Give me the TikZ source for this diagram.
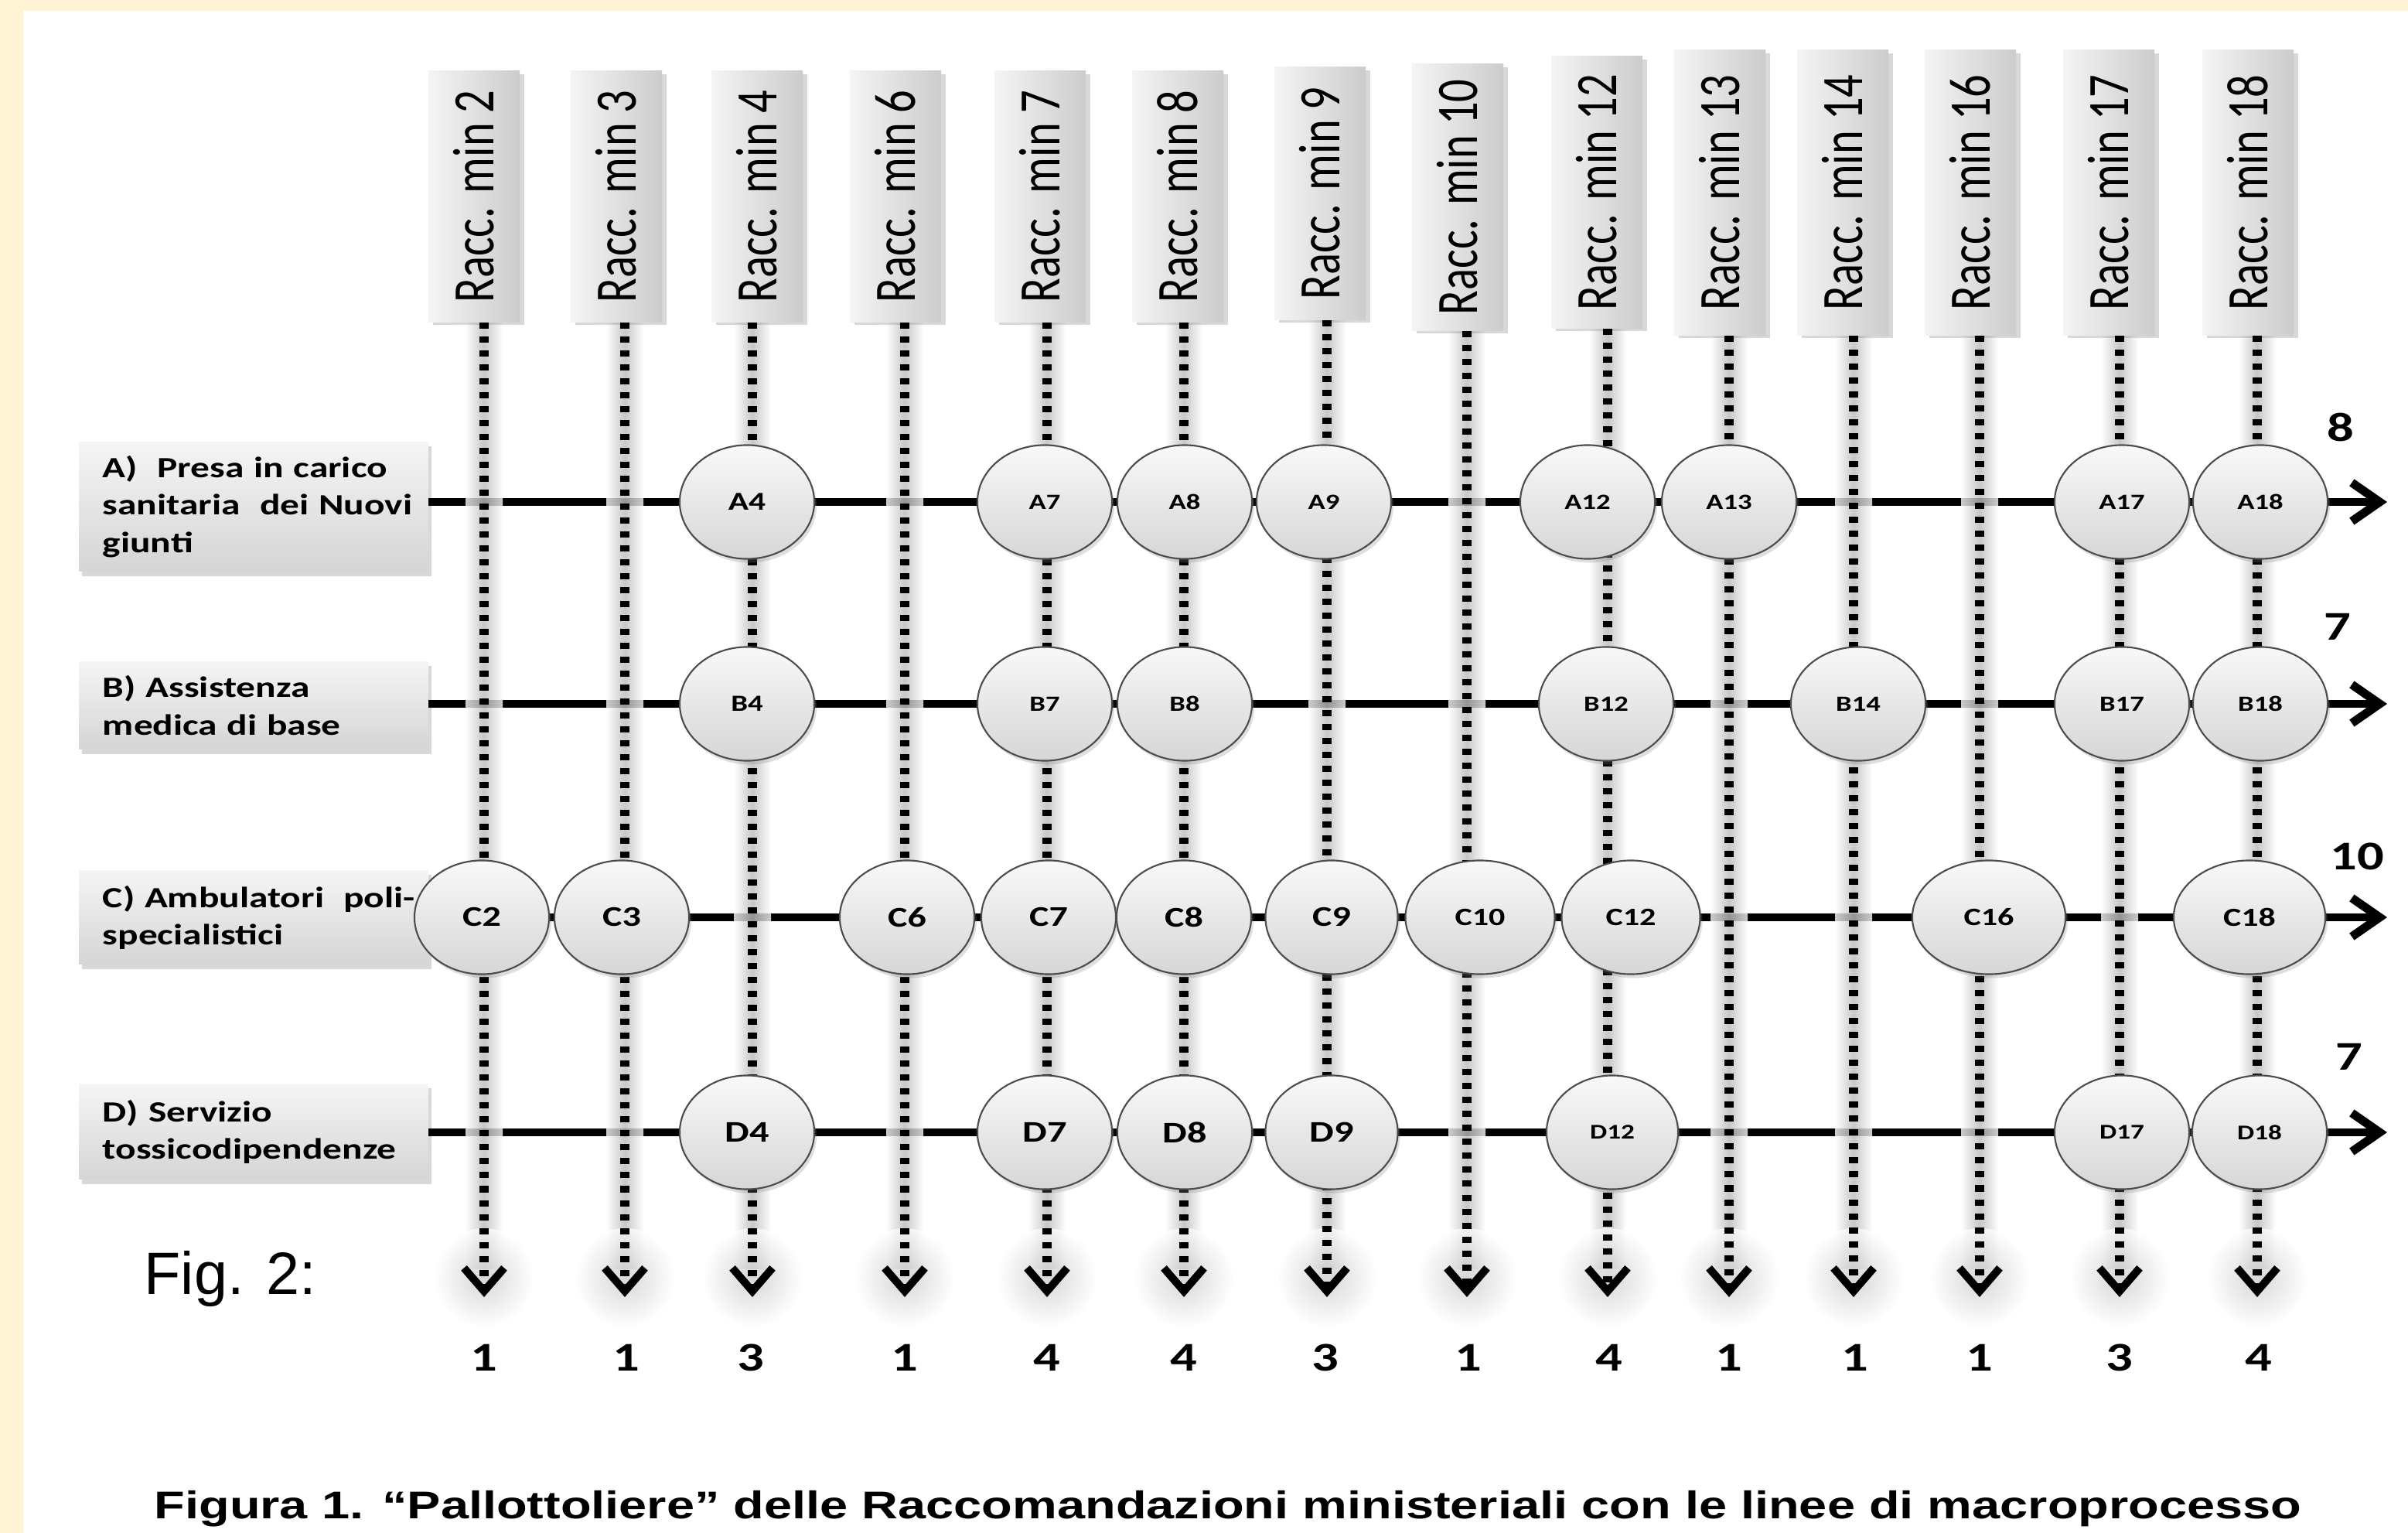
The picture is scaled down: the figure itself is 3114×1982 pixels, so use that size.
\documentclass[tikz,border=0pt]{standalone}
\usepackage{graphicx}
\usepackage{fontspec}
\setmainfont{Carlito}
\newfontfamily\lblfont[FakeStretch=1.3]{Carlito}
\newfontfamily\hdrfont[FakeStretch=0.77]{Carlito}
\newfontfamily\capfont[FakeStretch=1.3]{Liberation Sans}
\newfontfamily\figfont{Liberation Sans}
\usetikzlibrary{shapes.geometric,arrows.meta,shadows}
\definecolor{bgyellow}{RGB}{255,244,212}
\begin{document}
\begin{tikzpicture}[x=0.01cm, y=-0.01cm,
  hdrbox/.style={left color=gray!8, right color=gray!40, minimum width=1.18cm, inner sep=0pt,
    drop shadow={opacity=0.3, shadow xshift=0.06cm, shadow yshift=-0.04cm},
    font=\hdrfont\fontsize{21.6}{24}\selectfont},
  rowbox/.style={top color=gray!8, bottom color=gray!33, minimum width=4.51cm, text width=3.9cm,
    align=left, inner xsep=0pt, inner ysep=0pt,
    drop shadow={opacity=0.3, shadow xshift=0.04cm, shadow yshift=-0.06cm},
    font=\lblfont\bfseries\fontsize{10.8}{13.7}\selectfont},
  ball/.style={ellipse, minimum width=1.74cm, minimum height=1.47cm, inner sep=0pt,
    draw=black!70, line width=0.6pt, top color=gray!5, bottom color=gray!32,
    drop shadow={opacity=0.25, shadow xshift=0.03cm, shadow yshift=-0.05cm}},
  bfs/.style={font=\lblfont\bfseries\fontsize{#1}{#1}\selectfont},
  hline/.style={line width=0.1cm, -{Straight Barb[length=0.36cm, width=0.5cm, line width=0.11cm]}},
  dotline/.style={line width=0.12cm, dash pattern=on 0.08cm off 0.1cm,
    -{Straight Barb[length=0.3cm, width=0.52cm, line width=0.1cm]}},
  glowband/.style={left color=white, right color=white, middle color=black!27, fill opacity=0.8},
  num/.style={font=\lblfont\bfseries\fontsize{15}{18}\selectfont, inner sep=0pt}
]
\useasboundingbox (0,0) rectangle (3114,1982);
\fill[bgyellow] (0,0) rectangle (3114,1982);
\fill[white] (30,14) rectangle (3114,1982);

\def\cols{2/613/626/92/416, 3/797/808/92/416, 4/979/973/92/416, 6/1158/1170/92/416,
  7/1345/1354/92/416, 8/1523/1531/92/416, 9/1707/1716/87/413, 10/1885/1897/83/427,
  12/2065/2079/73/424, 13/2224/2236/65/433, 14/2383/2397/65/433, 16/2548/2560/65/433,
  17/2727/2741/65/433, 18/2907/2919/65/433}

% row labels
\node[rowbox, minimum height=1.67cm] (la) at (328,655)
  {\mbox{A)\ \ Presa in carico}\\\mbox{sanitaria\ \ dei Nuovi}\\giunti};
\node[rowbox, minimum height=1.13cm] (lb) at (328,912) {\mbox{B) Assistenza}\\\mbox{medica di base}};
\node[rowbox, minimum height=1.21cm] (lc) at (328,1186) {\mbox{C) Ambulatori\ \ poli-}\\specialistici};
\node[rowbox, minimum height=1.23cm] (ld) at (328,1463) {\mbox{D) Servizio}\\\mbox{tossicodipendenze}};

% horizontal process lines
\coordinate (tA) at (3087,649);
\coordinate (tB) at (3087,910);
\coordinate (tC) at (3087,1186);
\coordinate (tD) at (3087,1464);
\draw[hline] (la.east |- tA) -- (tA);
\draw[hline] (lb.east |- tB) -- (tB);
\draw[hline] (lc.east |- tC) -- (tC);
\draw[hline] (ld.east |- tD) -- (tD);

% glow bands
\foreach \n/\bx/\cx/\ty/\by in \cols {
  \shade[glowband] (\cx-24,\by) rectangle (\cx+24,1640);
  \shade[inner color=black!22, outer color=white, fill opacity=0.7] (\cx,1652) circle (64);
}

% header boxes
\foreach \n/\bx/\cx/\ty/\by in \cols {
  \pgfmathsetmacro\cy{(\ty+\by)/2}
  \pgfmathsetmacro\hh{(\by-\ty)/100}
  \node[hdrbox, minimum height=\hh cm] (h\n) at (\bx,\cy) {\rotatebox{90}{Racc. min \n}};
  \coordinate (e\n) at (\cx,1677);
}

% dotted vertical lines
\foreach \n/\bx/\cx/\ty/\by in \cols {
  \draw[dotline] (h\n.south -| e\n) -- (e\n);
}

% balls row A
\node[ball, bfs=9.5] (A4) at (966,649) {A4};
\node[ball, bfs=8] (A7) at (1351,649) {A7};
\node[ball, bfs=8] (A8) at (1532,649) {A8};
\node[ball, bfs=8] (A9) at (1712,649) {A9};
\node[ball, bfs=8] (A12) at (2053,649) {A12};
\node[ball, bfs=8] (A13) at (2236,649) {A13};
\node[ball, bfs=8] (A17) at (2744,649) {A17};
\node[ball, bfs=8] (A18) at (2923,649) {A18};
% row B
\node[ball, bfs=8.5] (B4) at (966,910) {B4};
\node[ball, bfs=8] (B7) at (1351,910) {B7};
\node[ball, bfs=8] (B8) at (1532,910) {B8};
\node[ball, bfs=8] (B12) at (2077,910) {B12};
\node[ball, bfs=8] (B14) at (2403,910) {B14};
\node[ball, bfs=8] (B17) at (2744,910) {B17};
\node[ball, bfs=8] (B18) at (2923,910) {B18};
% row C
\node[ball, bfs=10.5] (C2) at (623,1186) {C2};
\node[ball, bfs=10.5] (C3) at (804,1186) {C3};
\node[ball, bfs=10.5] (C6) at (1173,1186) {C6};
\node[ball, bfs=10.5] (C7) at (1356,1186) {C7};
\node[ball, bfs=10.5] (C8) at (1531,1186) {C8};
\node[ball, bfs=10.5, minimum width=1.71cm] (C9) at (1722,1186) {C9};
\node[ball, bfs=9.2, minimum width=1.93cm] (C10) at (1914,1186) {C10};
\node[ball, bfs=9.2, minimum width=1.79cm] (C12) at (2109,1186) {C12};
\node[ball, bfs=9.2, minimum width=1.98cm] (C16) at (2572,1186) {C16};
\node[ball, bfs=9.6, minimum width=1.96cm] (C18) at (2909,1186) {C18};
% row D
\node[ball, bfs=11] (D4) at (966,1464) {D4};
\node[ball, bfs=11] (D7) at (1351,1464) {D7};
\node[ball, bfs=11] (D8) at (1532,1464) {D8};
\node[ball, bfs=11, minimum width=1.71cm] (D9) at (1722,1464) {D9};
\node[ball, bfs=7.7, minimum width=1.70cm] (D12) at (2085,1464) {D12};
\node[ball, bfs=7.7] (D17) at (2744,1464) {D17};
\node[ball, bfs=7.7] (D18) at (2922,1464) {D18};

% row totals
\node[num] (nA) at (3027,552) {8};
\node[num] (nB) at (3023,810) {7};
\node[num] (nC) at (3048,1107) {10};
\node[num] (nD) at (3038,1366) {7};

% column totals
\foreach \n/\v/\cx in {2/1/626, 3/1/810, 4/3/971, 6/1/1170, 7/4/1354, 8/4/1531, 9/3/1714,
  10/1/1899, 12/4/2081, 13/1/2236, 14/1/2399, 16/1/2560, 17/3/2741, 18/4/2921} {
  \node[num, anchor=base] (s\n) at (\cx,1772) {\v};
}

\node[font=\figfont\fontsize{22}{26}\selectfont, anchor=base west, inner sep=0pt] (fig) at (186,1673) {Fig. 2:};
\node[font=\capfont\bfseries\fontsize{14.2}{17}\selectfont, anchor=base, inner sep=0pt] (cap) at (1588,1963)
  {Figura 1. “Pallottoliere” delle Raccomandazioni ministeriali con le linee di macroprocesso};
\end{tikzpicture}
\end{document}
